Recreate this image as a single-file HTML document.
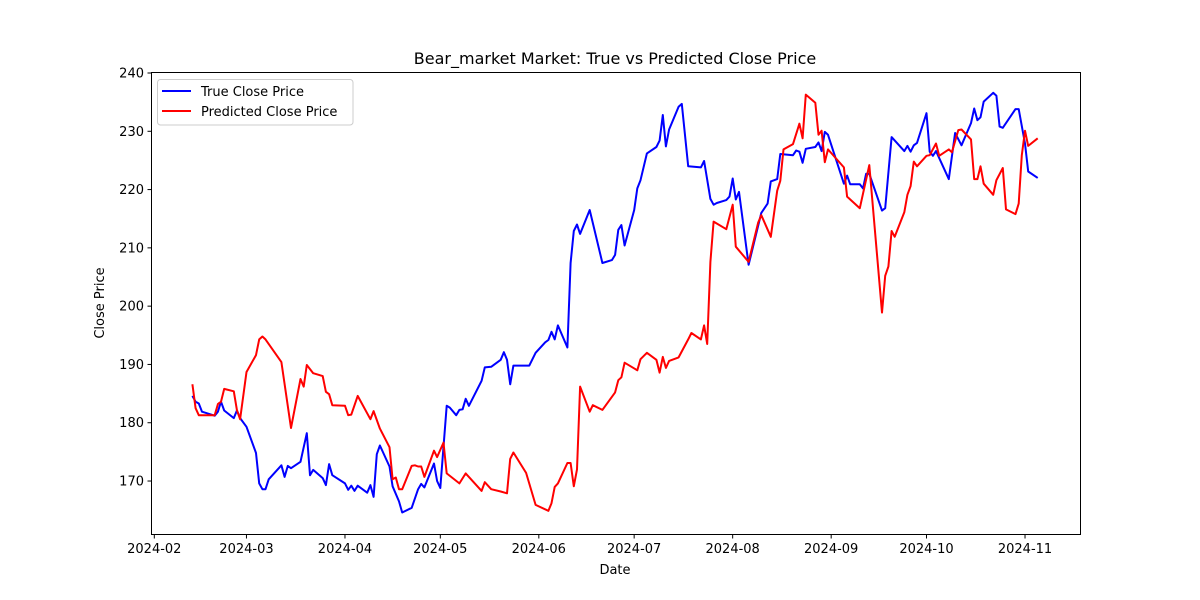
<!DOCTYPE html>
<html><head><meta charset="utf-8"><style>
body{margin:0;background:#fff;}
svg{display:block;font-family:"DejaVu Sans","Liberation Sans",sans-serif;}
</style></head><body>
<svg id="chart" width="1200" height="600" viewBox="0 0 1200 600" xmlns="http://www.w3.org/2000/svg">
<rect width="1200" height="600" fill="#fff"/>
<text x="615" y="64" font-size="16" text-anchor="middle">Bear_market Market: True vs Predicted Close Price</text>
<g id="plot"></g>
<rect x="151.5" y="72.5" width="929" height="462" fill="none" stroke="#000" stroke-width="1"/>
<text x="615" y="574" font-size="13" text-anchor="middle">Date</text>
<text x="104" y="303" font-size="13" text-anchor="middle" transform="rotate(-90 104 303)">Close Price</text>
<g>
<rect x="157.5" y="79.5" width="195.5" height="45.5" rx="3" fill="#fff" fill-opacity="0.8" stroke="#ccc"/>
<line x1="162" y1="91" x2="191" y2="91" stroke="#0000ff" stroke-width="2"/>
<text x="201" y="96" font-size="13">True Close Price</text>
<line x1="162" y1="111" x2="191" y2="111" stroke="#ff0000" stroke-width="2"/>
<text x="201" y="116" font-size="13">Predicted Close Price</text>
</g>
</svg>
<script>
// days since 2024-02-01
const trueDays=[12,13,14,15,19,20,21,22,25,26,27,29,32,33,34,35,36,40,41,42,43,46,48,49,50,53,54,55,56,60,61,62,63,64,67,68,69,70,71,74,75,77,78,81,83,84,85,88,89,90,92,93,95,96,97,98,99,103,104,106,109,110,111,112,113,118,120,123,124,125,126,127,130,131,132,133,134,137,141,144,145,146,147,148,151,152,153,155,158,159,160,161,162,165,166,168,172,173,175,176,177,180,181,182,183,184,187,191,193,194,196,197,201,202,203,204,205,208,209,210,211,212,217,218,219,222,223,224,225,229,230,232,236,237,238,239,240,243,244,245,246,250,252,254,257,258,259,260,261,264,265,266,267,271,272,274,275,278];
const trueValues=[184.6,183.6,183.3,181.9,181.2,181.9,183.6,182.1,180.8,182.1,180.8,179.3,174.8,169.6,168.6,168.6,170.3,172.7,170.7,172.6,172.2,173.3,178.2,171.0,171.9,170.5,169.3,172.9,171.0,169.6,168.5,169.2,168.3,169.2,168.0,169.3,167.3,174.6,176.1,172.5,169.1,166.5,164.6,165.4,168.6,169.5,168.9,173.0,170.0,168.8,182.9,182.6,181.3,182.2,182.3,184.1,182.9,187.2,189.5,189.6,190.8,192.1,190.8,186.6,189.8,189.8,192.0,193.8,194.2,195.6,194.3,196.7,192.9,207.4,212.9,214.0,212.4,216.5,207.4,207.9,208.8,213.1,213.9,210.4,216.5,220.2,221.6,226.2,227.3,228.4,232.8,227.4,230.3,234.2,234.7,224.0,223.8,224.9,218.4,217.4,217.7,218.2,218.8,221.9,218.3,219.6,207.1,216.0,217.6,221.4,221.8,226.1,225.9,226.7,226.5,224.6,227.0,227.3,228.1,226.6,229.9,229.4,221.0,222.4,220.9,220.9,220.2,222.7,222.7,216.4,216.8,229.0,226.6,227.5,226.5,227.6,228.0,233.1,226.5,225.8,226.6,221.8,229.7,227.6,231.4,233.9,231.9,232.4,235.1,236.6,236.1,230.8,230.6,233.8,233.8,227.9,223.1,222.0];
const predDays=[12,13,14,19,20,21,22,25,26,27,29,32,33,34,35,40,43,46,47,48,50,53,54,55,56,60,61,62,64,68,69,71,74,75,76,77,78,81,82,83,84,85,88,89,91,92,96,98,103,104,106,109,111,112,113,117,120,124,125,126,127,130,131,132,133,134,137,138,141,145,146,147,148,152,153,155,158,159,160,161,162,165,168,169,172,173,174,175,176,180,182,183,187,190,191,194,196,197,198,201,203,204,205,208,209,210,211,212,217,218,222,225,229,230,231,232,233,236,237,238,239,240,243,244,246,247,250,251,253,254,257,258,259,260,261,264,265,267,268,271,272,273,274,275,278];
const predValues=[186.6,182.5,181.3,181.3,183.2,183.6,185.8,185.4,182.2,180.6,188.7,191.6,194.3,194.8,194.3,190.4,179.1,187.5,186.2,189.9,188.5,188.0,185.3,184.9,183.0,182.9,181.3,181.4,184.6,180.6,182.0,179.0,175.8,170.3,170.6,168.6,168.6,172.6,172.7,172.5,172.5,170.7,175.2,174.1,176.6,171.3,169.6,171.3,168.3,169.8,168.6,168.2,167.9,173.8,174.9,171.4,165.9,164.9,166.2,169.0,169.6,173.1,173.1,169.1,172.0,186.2,181.9,183.0,182.2,185.2,187.3,187.8,190.3,189.0,190.9,192.0,190.8,188.6,191.3,189.4,190.6,191.2,194.3,195.4,194.3,196.7,193.5,207.6,214.5,213.2,217.4,210.2,207.6,214.3,215.6,211.9,219.8,221.5,226.9,227.8,231.3,228.8,236.3,234.9,229.4,230.1,224.7,226.9,223.8,218.8,216.8,224.2,198.9,205.2,206.8,212.9,211.9,216.1,219.1,220.6,224.8,224.0,225.8,225.9,227.9,225.8,226.9,226.4,230.2,230.3,228.6,221.8,221.8,224.0,221.0,219.1,221.6,223.7,216.6,215.8,217.6,225.9,230.1,227.5,228.8];
const yTicks=[170,180,190,200,210,220,230,240];
const xTickDays=[0,29,60,90,121,151,182,213,243,274];
const xTickLabels=["2024-02","2024-03","2024-04","2024-05","2024-06","2024-07","2024-08","2024-09","2024-10","2024-11"];

const NS="http://www.w3.org/2000/svg";
const X0=151,X1=1080,Y0=535,Y1=72;
const dMin=-1.04,dMax=291.3,vMin=160.74,vMax=240.17;
function xs(d){return X0+(d-dMin)/(dMax-dMin)*(X1-X0);}
function ys(v){return Y0-(v-vMin)/(vMax-vMin)*(Y0-Y1);}
const svg=document.getElementById('chart');
const plot=document.getElementById('plot');
function mk(t,a,p){const e=document.createElementNS(NS,t);for(const k in a)e.setAttribute(k,a[k]);(p||svg).appendChild(e);return e;}
yTicks.forEach(v=>{
  const y=ys(v);
  const t=mk('line',{x1:X0-3.5,x2:X0,y1:y,y2:y,stroke:'#000'});
  
  
  const l=mk('text',{x:X0-7,y:y+4.5,'font-size':13,'text-anchor':'end'});
  
  
  l.textContent=v;
});
xTickDays.forEach((d,i)=>{
  const x=xs(d);
  const t=mk('line',{x1:x,x2:x,y1:Y0,y2:Y0+3.5,stroke:'#000'});
  
  
  const l=mk('text',{x:x,y:Y0+18,'font-size':13,'text-anchor':'middle'});
  
  
  l.textContent=xTickLabels[i];
});
function line(days,vals,color,name){
  const pts=days.map((d,i)=>xs(d).toFixed(1)+','+ys(vals[i]).toFixed(1)).join(' ');
  const p=mk('polyline',{points:pts,fill:'none',stroke:color,'stroke-width':2,'stroke-linejoin':'round'},plot);
  
  
}
line(trueDays,trueValues,'#0000ff','true-close-line');
line(predDays,predValues,'#ff0000','predicted-close-line');
</script>
</body></html>
